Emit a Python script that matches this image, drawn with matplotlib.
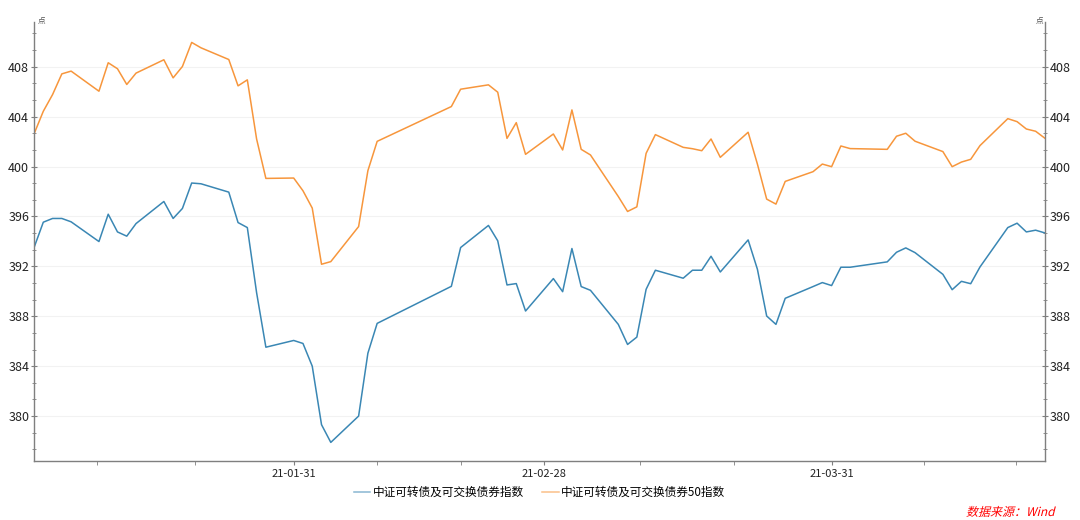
import matplotlib
matplotlib.use('Agg')
import matplotlib.pyplot as plt
import matplotlib.dates as mdates
from matplotlib.ticker import MultipleLocator, FixedLocator
from matplotlib.textpath import TextPath
from matplotlib.font_manager import FontProperties
from matplotlib.patches import PathPatch
from matplotlib.transforms import Affine2D
import pandas as pd

plt.rcParams['font.family'] = ['Noto Sans CJK SC', 'DejaVu Sans']

# Trading days shown in the chart
dates = ['2021-01-04', '2021-01-05', '2021-01-06', '2021-01-07', '2021-01-08',
         '2021-01-11', '2021-01-12', '2021-01-13', '2021-01-14', '2021-01-15',
         '2021-01-18', '2021-01-19', '2021-01-20', '2021-01-21', '2021-01-22',
         '2021-01-25', '2021-01-26', '2021-01-27', '2021-01-28', '2021-01-29',
         '2021-02-01', '2021-02-02', '2021-02-03', '2021-02-04', '2021-02-05',
         '2021-02-08', '2021-02-09', '2021-02-10', '2021-02-18', '2021-02-19',
         '2021-02-22', '2021-02-23', '2021-02-24', '2021-02-25', '2021-02-26',
         '2021-03-01', '2021-03-02', '2021-03-03', '2021-03-04', '2021-03-05',
         '2021-03-08', '2021-03-09', '2021-03-10', '2021-03-11', '2021-03-12',
         '2021-03-15', '2021-03-16', '2021-03-17', '2021-03-18', '2021-03-19',
         '2021-03-22', '2021-03-23', '2021-03-24', '2021-03-25', '2021-03-26',
         '2021-03-29', '2021-03-30', '2021-03-31', '2021-04-01', '2021-04-02',
         '2021-04-06', '2021-04-07', '2021-04-08', '2021-04-09',
         '2021-04-12', '2021-04-13', '2021-04-14', '2021-04-15', '2021-04-16',
         '2021-04-19', '2021-04-20', '2021-04-21', '2021-04-22', '2021-04-23']

# 中证可转债及可交换债券指数
cb_index = [393.50, 395.54, 395.84, 395.84, 395.57,
            393.99, 396.18, 394.76, 394.42, 395.43,
            397.20, 395.84, 396.64, 398.68, 398.62,
            397.95, 395.51, 395.11, 389.89, 385.52,
            386.06, 385.82, 384.00, 379.31, 377.89,
            380.00, 385.04, 387.43, 390.40, 393.51,
            395.28, 394.05, 390.51, 390.62, 388.42,
            391.02, 389.97, 393.43, 390.38, 390.08,
            387.35, 385.74, 386.33, 390.16, 391.69,
            391.05, 391.69, 391.69, 392.81, 391.55,
            394.12, 391.77, 388.02, 387.35, 389.44,
            390.38, 390.70, 390.46, 391.93, 391.93,
            392.36, 393.13, 393.48, 393.10,
            391.36, 390.13, 390.80, 390.61, 391.95,
            395.11, 395.46, 394.76, 394.90, 394.68]

# 中证可转债及可交换债券50指数
cb50_index = [402.61, 404.43, 405.77, 407.43, 407.65,
              406.04, 408.32, 407.84, 406.58, 407.49,
              408.56, 407.11, 408.02, 409.95, 409.52,
              408.58, 406.47, 406.95, 402.21, 399.05,
              399.08, 398.06, 396.67, 392.17, 392.38,
              395.19, 399.67, 402.02, 404.81, 406.20,
              406.55, 405.96, 402.26, 403.52, 400.98,
              402.61, 401.33, 404.54, 401.38, 400.93,
              397.60, 396.40, 396.77, 401.06, 402.56,
              401.54, 401.43, 401.27, 402.21, 400.74,
              402.75, 400.20, 397.39, 396.99, 398.81,
              399.59, 400.20, 399.99, 401.65, 401.44,
              401.38, 402.43, 402.67, 402.03,
              401.20, 399.99, 400.36, 400.58, 401.68,
              403.84, 403.60, 403.01, 402.83, 402.27]

series_names = ['中证可转债及可交换债券指数', '中证可转债及可交换债券50指数']
colors = ['#3a87b4', '#f7963c']

# x axis ticks (positions as in the Wind chart)
major_tick_dates = ['2021-02-01 00:00', '2021-02-28 00:00', '2021-03-31 00:00']
major_tick_labels = ['21-01-31', '21-02-28', '21-03-31']
minor_tick_dates = ['2021-01-10 18:00', '2021-01-21 08:00', '2021-02-10 00:00', '2021-02-19 00:00',
                    '2021-03-10 08:00', '2021-03-20 12:00', '2021-04-09 22:00', '2021-04-19 20:00']

source_text = '数据来源：Wind'

x = pd.to_datetime(dates)

fig = plt.figure(figsize=(10.8, 5.2), dpi=100)
ax = fig.add_axes([0.0315, 0.1135, 0.936, 0.8445])

ax.plot(x, cb_index, color=colors[0], lw=1.1, label=series_names[0])
ax.plot(x, cb50_index, color=colors[1], lw=1.1, label=series_names[1])

ax.set_xlim(pd.Timestamp('2021-01-04'), pd.Timestamp('2021-04-23'))
ax.set_ylim(376.4, 411.6)

ax.set_yticks([380, 384, 388, 392, 396, 400, 404, 408])
ax.yaxis.set_minor_locator(MultipleLocator(4 / 3))

fmt = '%Y-%m-%d %H:%M'
ax.xaxis.set_major_locator(FixedLocator(mdates.date2num(pd.to_datetime(major_tick_dates, format=fmt))))
ax.xaxis.set_minor_locator(FixedLocator(mdates.date2num(pd.to_datetime(minor_tick_dates, format=fmt))))
ax.set_xticklabels(major_tick_labels)

ax.grid(axis='y', which='major', color='#f2f2f2', lw=0.8)
ax.set_axisbelow(True)

for side in ['left', 'right', 'bottom']:
    ax.spines[side].set_color('#7f7f7f')
    ax.spines[side].set_linewidth(1.0)
ax.spines['top'].set_visible(False)

ax.tick_params(axis='y', which='both', left=True, right=True, labelleft=True, labelright=True,
               direction='inout', color='#7f7f7f', labelsize=9, labelcolor='#222222', pad=1)
ax.tick_params(axis='y', which='major', length=5)
ax.tick_params(axis='y', which='minor', length=3)
ax.tick_params(axis='x', which='both', direction='out', length=3, color='#7f7f7f',
               labelsize=8, labelcolor='#222222', pad=3)

# unit labels at the top of both axes
fig.text(0.0345, 0.952, '点', fontsize=5.5, color='#555555', ha='left', va='bottom')
fig.text(0.9665, 0.952, '点', fontsize=5.5, color='#555555', ha='right', va='bottom')

leg = ax.legend(loc='center', bbox_to_anchor=(0.5, -0.072), ncol=2, frameon=False,
                fontsize=8.4, handlelength=1.4, handletextpad=0.2, columnspacing=1.6)
for h in leg.get_lines():
    h.set_alpha(0.6)

# source note, slanted by hand since the CJK font has no italic face
tp = TextPath((0, 0), source_text, size=12, prop=FontProperties(family=['Noto Sans CJK SC']))
tr = Affine2D().skew_deg(14, 0).translate(966, 520 - 516)
fig.patches.append(PathPatch(tp, transform=tr, facecolor='#ff0000', edgecolor='none', figure=fig))

fig.savefig('out.png', dpi=100)
